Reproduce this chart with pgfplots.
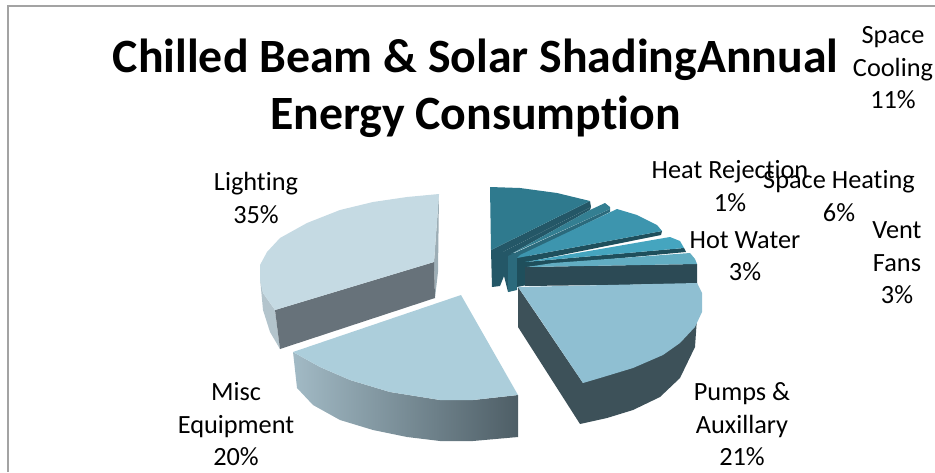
\documentclass[border=0pt]{standalone}
\usepackage{fontspec}
\setmainfont[Ligatures=NoCommon]{Carlito}
\usepackage{pgfplots}
\pgfplotsset{compat=1.18}
\definecolor{lightTop}{HTML}{C5DAE3}
\definecolor{lightFront}{HTML}{67727A}
\definecolor{lightSide}{HTML}{B3C4CC}
\definecolor{lightEdge}{HTML}{9DAEB6}
\definecolor{miscTop}{HTML}{ACCEDB}
\definecolor{miscL}{HTML}{A2BAC5}
\definecolor{miscR}{HTML}{4E5E66}
\definecolor{pumpTop}{HTML}{8FBFD2}
\definecolor{pumpSide}{HTML}{3D5159}
\definecolor{coolTop}{HTML}{2F7A8E}
\definecolor{coolSide}{HTML}{245767}
\definecolor{rejTop}{HTML}{347F92}
\definecolor{rejSide}{HTML}{2B6A7C}
\definecolor{heatTop}{HTML}{3D95AE}
\definecolor{heatSide}{HTML}{1F4F5C}
\definecolor{hotTop}{HTML}{45A5BF}
\definecolor{ventTop}{HTML}{62ADC2}
\definecolor{ventSide}{HTML}{2C4A55}
\definecolor{frameGrey}{HTML}{A3A3A3}
\pgfplotsset{slice/.style={fill=#1,draw=none}}
\begin{document}
\begin{tikzpicture}
\path[use as bounding box] (0,0) rectangle (935pt,472pt);
\begin{axis}[
  at={(0,0)}, anchor=south west,
  scale only axis, width=935pt, height=472pt,
  xmin=0, xmax=935, ymin=0, ymax=472, y dir=reverse,
  hide axis, clip=false,
]
% chart area border
\addplot[frameGrey, line width=2pt] coordinates {(7.5,472) (7.5,5.5) (935,5.5)};

% Lighting, 35%
\addplot[slice=lightSide] coordinates {(260,278) (263,293) (275,310) (280,349) (270,332) (263,310)} --cycle;
\addplot[slice=lightEdge] coordinates {(439,194) (438,272) (435,298) (434,262)} --cycle;
\addplot[slice=lightFront] coordinates {(275,310) (434,262) (435,298) (280,349)} --cycle;
\addplot[slice=lightTop] coordinates {(439,194) (407,197) (373,202) (340,210) (307,223) (280,238) (267,252) (260,265) (260,280) (263,293) (275,310) (434,262)} --cycle;

% Misc Equipment, 20%
\addplot[left color=miscL, right color=miscR, draw=none] coordinates {(293,352) (297,388) (313,405) (340,420) (373,430) (407,437) (440,441) (473,441) (518,437) (518,395) (473,400) (440,400) (390,392) (350,380) (320,367)} --cycle;
\addplot[slice=miscTop] coordinates {(293,352) (461,295) (518,395) (473,400) (440,400) (390,392) (350,380) (320,367)} --cycle;

% Space Cooling, 11%
\addplot[slice=coolSide] coordinates {(491,250) (492,287) (500,286) (504,276) (508,292) (514,290) (516,282) (525,285) (530,255)} --cycle;
\addplot[slice=coolSide] coordinates {(493,257) (591,207) (590,210) (511,254) (511,262)} --cycle;
\addplot[slice=coolSide] coordinates {(590,201) (591,207) (493,257) (491,250)} --cycle;
\addplot[slice=coolTop] coordinates {(490,187) (520,188) (557,193) (590,201) (491,250)} --cycle;

% Heat Rejection, 1%
\addplot[slice=rejSide] coordinates {(508,256) (610,209) (610,212) (517,258) (517,290) (508,292)} --cycle;
\addplot[slice=rejTop] coordinates {(590,210) (605,203) (610,207) (610,209) (511,254)} --cycle;

% Space Heating, 6%
\addplot[slice=heatSide] coordinates {(517,258) (662,231) (661,235) (527,262) (527,285) (517,287)} --cycle;
\addplot[slice=heatTop] coordinates {(517,258) (520,255) (617,209) (637,215) (657,225) (662,231)} --cycle;

% Hot Water, 3%
\addplot[slice=heatSide] coordinates {(525,262) (684,248) (686,252) (527,267)} --cycle;
\addplot[slice=hotTop] coordinates {(525,262) (670,237) (680,241) (684,248)} --cycle;

% Vent Fans, 3%
\addplot[slice=ventSide] coordinates {(525,267) (697,264) (697,284) (525,286)} --cycle;
\addplot[slice=ventTop] coordinates {(527,267) (553,263) (690,253) (695,259) (697,264)} --cycle;

% Pumps & Auxillary, 21%
\addplot[slice=pumpSide] coordinates {(518,287) (518,327) (580,424) (607,418) (633,410) (660,397) (680,378) (695,347) (697,318) (583,383)} --cycle;
\addplot[slice=pumpTop] coordinates {(518,287) (697,283) (702,293) (702,312) (695,327) (680,343) (663,355) (633,368) (600,378) (583,383) (540,319)} --cycle;

% title and data labels
\node[align=center, font=\fontsize{47.8}{57}\selectfont\bfseries] at (axis cs:475.5,88) {Chilled Beam \& Solar ShadingAnnual\\Energy Consumption};
\tikzset{lbl/.style={align=center, inner sep=0pt, font=\fontsize{26.3}{32.5}\selectfont}}
\node[lbl] at (axis cs:893,68) {Space\\Cooling\\11\%};
\node[lbl] at (axis cs:730,186) {Heat Rejection\\1\%};
\node[lbl] at (axis cs:839,196) {Space Heating\\6\%};
\node[lbl] at (axis cs:897,263) {Vent\\Fans\\3\%};
\node[lbl] at (axis cs:745,256) {Hot Water\\3\%};
\node[lbl] at (axis cs:256,198) {Lighting\\35\%};
\node[lbl] at (axis cs:236,424.5) {Misc\\Equipment\\20\%};
\node[lbl] at (axis cs:742,424.5) {Pumps \&\\Auxillary\\21\%};
\end{axis}
\end{tikzpicture}
\end{document}
